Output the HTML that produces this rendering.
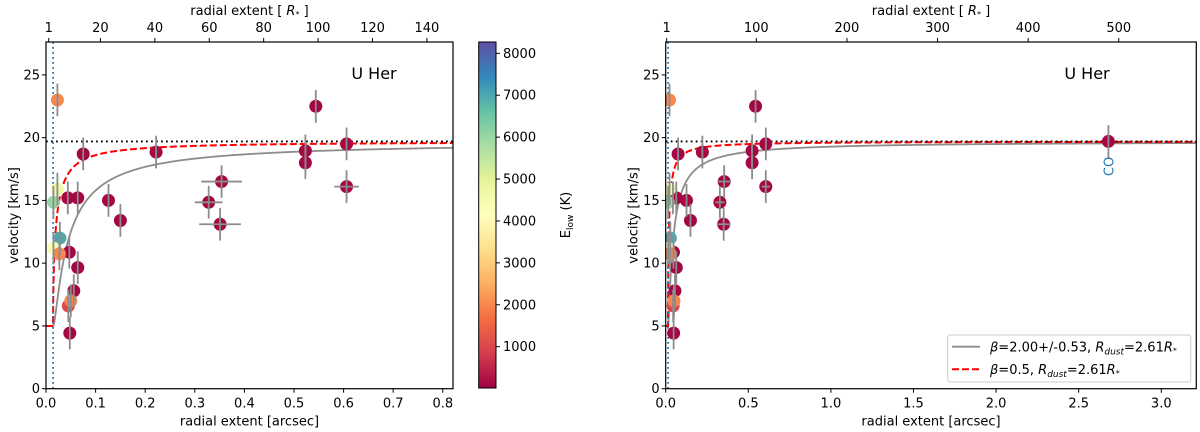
<!DOCTYPE html>
<html><head><meta charset="utf-8"><style>
html,body{margin:0;padding:0;background:#fff}
svg{display:block;font-family:"DejaVu Sans","Liberation Sans",sans-serif}
</style></head><body>
<svg id="fig" width="1200" height="432" viewBox="0 0 1200 432" xmlns="http://www.w3.org/2000/svg">
<defs>
<linearGradient id="spectral" x1="0" y1="1" x2="0" y2="0">
<stop offset="0" stop-color="#9e0142"/><stop offset="0.1" stop-color="#d53e4f"/><stop offset="0.2" stop-color="#f46d43"/><stop offset="0.3" stop-color="#fdae61"/><stop offset="0.4" stop-color="#fee08b"/><stop offset="0.5" stop-color="#ffffbf"/><stop offset="0.6" stop-color="#e6f598"/><stop offset="0.7" stop-color="#abdda4"/><stop offset="0.8" stop-color="#66c2a5"/><stop offset="0.9" stop-color="#3288bd"/><stop offset="1" stop-color="#5e4fa2"/>
</linearGradient>
</defs>
</svg>
<script>
// data
const xArc = [0.023,0.075,0.222,0.544,0.523,0.523,0.606,0.606,0.354,0.328,0.351,0.126,0.150,0.044,0.064,0.047,0.064,0.056,0.048,0.045,0.050,0.015,0.023,0.028,0.015,0.027,2.68];
const vel  = [23.0,18.7,18.85,22.5,18.95,18.0,19.5,16.1,16.5,14.85,13.1,15.0,13.4,15.2,15.2,10.87,9.65,7.8,4.43,6.6,7.0,14.85,15.9,12.0,11.2,10.75,19.7];
const xErr = [0,0,0,0,0,0,0,0.025,0.041,0.028,0.042,0,0,0,0,0,0,0,0,0,0,0,0,0,0,0,0];
const yErr = [1.3,1.3,1.3,1.3,1.3,1.3,1.3,1.3,1.3,1.3,1.3,1.3,1.3,1.3,1.3,1.3,1.3,1.3,1.3,1.3,1.3,1.3,1.3,1.3,1.3,1.3,1.3];
const eLow = [2000,100,100,100,100,100,100,100,100,100,100,100,100,100,100,100,100,100,100,1000,2000,6000,4600,7000,4400,2000,100];
const yTicks = [0,5,10,15,20,25];
const leftXTicks = [0,0.1,0.2,0.3,0.4,0.5,0.6,0.7,0.8];
const leftXLabels = ["0.0","0.1","0.2","0.3","0.4","0.5","0.6","0.7","0.8"];
const rightXTicks = [0,0.5,1.0,1.5,2.0,2.5,3.0];
const rightXLabels = ["0.0","0.5","1.0","1.5","2.0","2.5","3.0"];
const leftRTicks = [1,20,40,60,80,100,120,140];
const rightRTicks = [1,100,200,300,400,500];
const cbTicks = [1000,2000,3000,4000,5000,6000,7000,8000];
const vInf = 19.7, v0 = 5, rDustStar = 2.61, starPerArc = 182.3;
const betaFit = 2.0, betaRed = 0.5;

const NS="http://www.w3.org/2000/svg";
const svg=document.getElementById('fig');
function el(tag,attrs,parent){const e=document.createElementNS(NS,tag);for(const k in attrs)e.setAttribute(k,attrs[k]);(parent||svg).appendChild(e);return e;}
function txt(s,attrs,parent){const e=el('text',attrs,parent);e.textContent=s;return e;}

const stops=[[0.0,[158,1,66]],[0.1,[213,62,79]],[0.2,[244,109,67]],[0.3,[253,174,97]],[0.4,[254,224,139]],[0.5,[255,255,191]],[0.6,[230,245,152]],[0.7,[171,221,164]],[0.8,[102,194,165]],[0.9,[50,136,189]],[1.0,[94,79,162]]];
const cMin=14,cMax=8270;
function cmap(v){let t=Math.max(0,Math.min(1,(v-cMin)/(cMax-cMin)));for(let i=0;i<stops.length-1;i++){if(t<=stops[i+1][0]){const f=(t-stops[i][0])/(stops[i+1][0]-stops[i][0]);const a=stops[i][1],b=stops[i+1][1];return 'rgb('+a.map((c,j)=>Math.round(c+(b[j]-c)*f)).join(',')+')';}}return 'rgb(94,79,162)';}

function panel(cfg){
  const g=el('g',{}),L=cfg.L,R=cfg.R,T=42,B=388.7,yMax=27.62;
  
  
  const sx=x=>L+(x/cfg.xMax)*(R-L), sy=v=>B-(v/yMax)*(B-T);
  const clip=el('clipPath',{id:'clip'+cfg.id},g);el('rect',{x:L,y:T,width:R-L,height:B-T},clip);
  const plot=el('g',{'clip-path':'url(#clip'+cfg.id+')'},g);
  const rd=rDustStar/starPerArc;
  // curves
  let p1='',p2='M'+sx(0)+','+sy(v0)+' L'+sx(rd)+','+sy(v0);
  for(let i=0;i<=600;i++){const x=rd+(cfg.xMax-rd)*Math.pow(i/600,2);
    const vg=v0+(vInf-v0)*Math.pow(1-rd/x,betaFit), vr=v0+(vInf-v0)*Math.pow(1-rd/x,betaRed);
    p1+=(i?' L':'M')+sx(x).toFixed(2)+','+sy(vg).toFixed(2); p2+=' L'+sx(x).toFixed(2)+','+sy(vr).toFixed(2);}
  const gc=el('path',{d:p1,fill:'none',stroke:'#8c8c8c','stroke-width':1.8},plot);
  
  const rc=el('path',{d:p2,fill:'none',stroke:'#f00','stroke-width':2,'stroke-dasharray':'7,3'},plot);
  
  const hl=el('line',{x1:L,x2:R,y1:sy(vInf),y2:sy(vInf),stroke:'#000','stroke-width':1.8,'stroke-dasharray':'1.8,3.2'},plot);
  
  const vl=el('line',{x1:sx(rd),x2:sx(rd),y1:T,y2:B,stroke:'#1f77b4','stroke-width':1.8,'stroke-dasharray':'1.8,3.2'},plot);
  
  // points
  for(let i=0;i<xArc.length;i++){
    const c=el('circle',{cx:sx(xArc[i]),cy:sy(vel[i]),r:6.5,fill:cmap(eLow[i])},plot);
    
    
  }
  for(let i=0;i<xArc.length;i++){
    const eb=el('g',{stroke:'#8c8c8c','stroke-width':1.8},plot);
    
    
    el('line',{x1:sx(xArc[i]),x2:sx(xArc[i]),y1:sy(vel[i]-yErr[i]),y2:sy(vel[i]+yErr[i])},eb);
    if(xErr[i]>0)el('line',{x1:sx(xArc[i]-xErr[i]),x2:sx(xArc[i]+xErr[i]),y1:sy(vel[i]),y2:sy(vel[i])},eb);
  }
  if(cfg.co){const co=txt('CO',{x:0,y:0,'font-size':13,fill:'#1f77b4','text-anchor':'middle',transform:'translate('+(sx(2.68)+5)+','+(sy(vel[26])+25)+') rotate(-90)'},g);
    }
  // frame
  const fr=el('rect',{x:L,y:T,width:R-L,height:B-T,fill:'none',stroke:'#000','stroke-width':1.2},g);
  
  // y ticks
  yTicks.forEach(v=>{el('line',{x1:L-4,x2:L,y1:sy(v),y2:sy(v),stroke:'#000','stroke-width':1},g);
    const t=txt(String(v),{x:L-6,y:sy(v)+4.5,'font-size':13,'text-anchor':'end'},g);
    });
  cfg.xt.forEach((v,i)=>{el('line',{x1:sx(v),x2:sx(v),y1:B,y2:B+4,stroke:'#000','stroke-width':1},g);
    const t=txt(cfg.xl[i],{x:sx(v),y:407.5,'font-size':13,'text-anchor':'middle'},g);
    });
  cfg.rt.forEach(v=>{const x=sx(v/starPerArc);el('line',{x1:x,x2:x,y1:T-4,y2:T,stroke:'#000','stroke-width':1},g);
    const t=txt(String(v),{x:x,y:32,'font-size':13,'text-anchor':'middle'},g);
    });
  const xlab=txt('radial extent [arcsec]',{x:(L+R)/2,y:425.5,'font-size':13,'text-anchor':'middle'},g);
  
  const tlab=el('text',{x:(L+R)/2,y:15,'font-size':13,'text-anchor':'middle'},g);
  tlab.innerHTML='radial extent [ <tspan font-style="italic">R</tspan><tspan font-size="8" dy="2">*</tspan><tspan dy="-2"> ]</tspan>';
  
  const ylab=txt('velocity [km/s]',{x:0,y:0,'font-size':13,'text-anchor':'middle',transform:'translate('+(L-28)+','+((T+B)/2)+') rotate(-90)'},g);
  
  const star=txt('U Her',{x:cfg.ux,y:79,'font-size':16,'text-anchor':'middle'},g);
  
  return g;
}
panel({id:1,name:'left-panel',L:46,R:453,xMax:0.8206,xt:leftXTicks,xl:leftXLabels,rt:leftRTicks,ux:374,co:false});
panel({id:2,name:'right-panel',L:665.7,R:1196.3,xMax:3.212,xt:rightXTicks,xl:rightXLabels,rt:rightRTicks,ux:1087,co:true});

// colorbar
const cb=el('g',{});


el('rect',{x:478.7,y:42,width:17.3,height:346,fill:'url(#spectral)',stroke:'#000','stroke-width':1},cb);
const cy=v=>388-(v-cMin)/(cMax-cMin)*346;
cbTicks.forEach(v=>{el('line',{x1:496,x2:500,y1:cy(v),y2:cy(v),stroke:'#000','stroke-width':1},cb);
  const t=txt(String(v),{x:503,y:cy(v)+4.5,'font-size':13},cb);
  });
const cbl=el('text',{x:0,y:0,'font-size':13,'text-anchor':'middle',transform:'translate(570,215) rotate(-90)'},cb);
cbl.innerHTML='E<tspan font-size="9" dy="3">low</tspan><tspan dy="-3"> (K)</tspan>';


// legend
const lg=el('g',{});


el('rect',{x:947.7,y:335,width:243,height:47,rx:2,fill:'#fff','fill-opacity':0.85,stroke:'#ccc','stroke-width':1},lg);
el('line',{x1:952,x2:980,y1:346.7,y2:346.7,stroke:'#8c8c8c','stroke-width':1.8},lg);
el('line',{x1:952,x2:980,y1:369.3,y2:369.3,stroke:'#f00','stroke-width':2,'stroke-dasharray':'7,3'},lg);
const l1=el('text',{x:990,y:351.5,'font-size':13},lg);
l1.innerHTML='<tspan font-style="italic">β</tspan>=2.00+/-0.53, <tspan font-style="italic">R</tspan><tspan font-style="italic" font-size="9" dy="3">dust</tspan><tspan dy="-3">=2.61</tspan><tspan font-style="italic">R</tspan><tspan font-size="8" dy="2">*</tspan>';

const l2=el('text',{x:990,y:374,'font-size':13},lg);
l2.innerHTML='<tspan font-style="italic">β</tspan>=0.5, <tspan font-style="italic">R</tspan><tspan font-style="italic" font-size="9" dy="3">dust</tspan><tspan dy="-3">=2.61</tspan><tspan font-style="italic">R</tspan><tspan font-size="8" dy="2">*</tspan>';

</script>
</body></html>
